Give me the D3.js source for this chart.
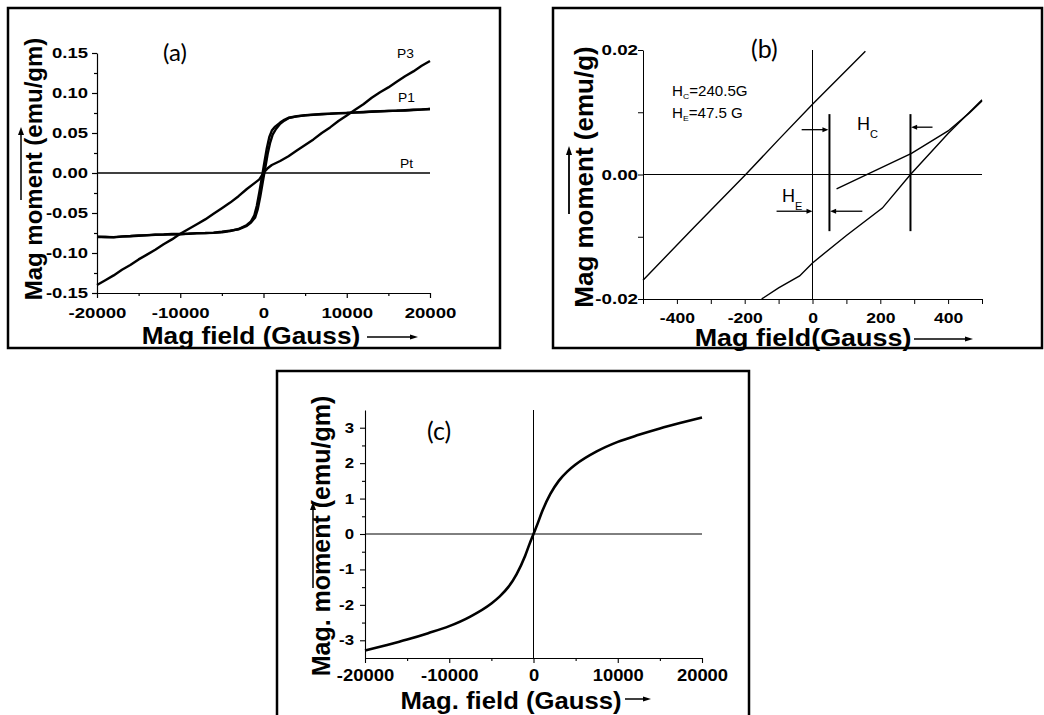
<!DOCTYPE html>
<html><head><meta charset="utf-8">
<script src="https://cdn.jsdelivr.net/npm/d3@7"></script>
<style>html,body{margin:0;padding:0;background:#fff;}svg{display:block;}</style>
</head><body>
<svg id="c" width="1044" height="715"></svg>
<script>
// ---------------- DATA ----------------
// Panel (a)
const xTicksA = [-20000, -10000, 0, 10000, 20000];
const xTickLabelsA = ["-20000", "-10000", "0", "10000", "20000"];
const xMinorA = [-15000, -5000, 5000, 15000];
const yTicksA = [-0.15, -0.10, -0.05, 0.00, 0.05, 0.10, 0.15];
const yTickLabelsA = ["-0.15", "-0.10", "-0.05", "0.00", "0.05", "0.10", "0.15"];
const yMinorA = [-0.125, -0.075, -0.025, 0.025, 0.075, 0.125];
const seriesNamesA = ["P3", "P1", "Pt"];
// P3 (both branches overlap)
const p3Field = [-20000,-19000,-18000,-17000,-16000,-15000,-14000,-13000,-12000,-11000,-10000,-9000,-8000,-7000,-6000,-5000,-4000,-3000,-2000,-1000,-500,0,500,1000,2000,3000,4000,5000,6000,7000,8000,9000,10000,11000,12000,13000,14000,15000,16000,17000,18000,19000,20000];
const p3Moment = [-0.140,-0.134,-0.128,-0.121,-0.115,-0.108,-0.102,-0.096,-0.089,-0.083,-0.076,-0.070,-0.064,-0.058,-0.051,-0.044,-0.037,-0.029,-0.020,-0.012,-0.008,0.000,0.006,0.010,0.015,0.021,0.028,0.035,0.042,0.050,0.057,0.065,0.072,0.079,0.086,0.094,0.101,0.107,0.114,0.121,0.127,0.134,0.140];
// P1 descending-field branch
const p1DescField = [-20000,-19000,-18000,-17000,-16000,-15000,-14000,-13000,-12000,-11000,-10000,-9000,-8000,-7000,-6000,-5000,-4000,-3000,-2000,-1500,-1100,-800,-500,-200,100,400,700,1000,1400,2000,2500,3000,4000,5000,6000,7000,8000,9000,10000,11000,12000,13000,14000,15000,16000,17000,18000,19000,20000];
const p1DescMoment = [-0.0795,-0.0800,-0.0805,-0.0795,-0.0790,-0.0785,-0.0780,-0.0772,-0.0770,-0.0765,-0.0762,-0.0760,-0.0755,-0.0752,-0.0748,-0.0740,-0.0725,-0.0700,-0.0650,-0.0605,-0.0530,-0.0410,-0.0240,-0.0060,0.0130,0.0310,0.0450,0.0530,0.0580,0.0630,0.0665,0.0690,0.0710,0.0722,0.0730,0.0735,0.0742,0.0745,0.0750,0.0758,0.0762,0.0765,0.0770,0.0775,0.0780,0.0782,0.0788,0.0792,0.0800];
// P1 ascending-field branch
const p1AscField = [-20000,-19000,-18000,-17000,-16000,-15000,-14000,-13000,-12000,-11000,-10000,-9000,-8000,-7000,-6000,-5000,-4000,-3000,-2000,-1500,-1000,-700,-400,-100,200,500,800,1100,1500,2000,2500,3000,4000,5000,6000,7000,8000,9000,10000,11000,12000,13000,14000,15000,16000,17000,18000,19000,20000];
const p1AscMoment = [-0.0800,-0.0798,-0.0802,-0.0792,-0.0788,-0.0780,-0.0776,-0.0770,-0.0768,-0.0762,-0.0765,-0.0758,-0.0752,-0.0750,-0.0745,-0.0735,-0.0720,-0.0705,-0.0660,-0.0620,-0.0555,-0.0455,-0.0300,-0.0120,0.0060,0.0240,0.0380,0.0480,0.0550,0.0615,0.0655,0.0685,0.0708,0.0720,0.0728,0.0738,0.0740,0.0748,0.0752,0.0755,0.0760,0.0768,0.0772,0.0776,0.0778,0.0785,0.0790,0.0795,0.0800];
// Pt (flat)
const ptField = [-20000, 20000];
const ptMoment = [0, 0];

// Panel (b)
const xTicksB = [-400, -200, 0, 200, 400];
const xTickLabelsB = ["-400", "-200", "0", "200", "400"];
const xMinorB = [-500, -300, -100, 100, 300, 500];
const yTicksB = [-0.02, 0.00, 0.02];
const yTickLabelsB = ["-0.02", "0.00", "0.02"];
const yMinorB = [-0.01, 0.01];
const bDescField = [-500, -350, -197, -100, 0, 156];
const bDescMoment = [-0.0170, -0.0085, 0.0000, 0.0056, 0.0113, 0.0198];
const bAscField = [-150, -100, -38, 0, 100, 206, 289, 400, 463, 500];
const bAscMoment = [-0.0200, -0.0182, -0.0163, -0.0142, -0.0098, -0.0054, 0.0000, 0.0066, 0.0100, 0.0120];
const bRetField = [71, 180, 292, 400, 463, 500];
const bRetMoment = [-0.0023, 0.0005, 0.0034, 0.0070, 0.0099, 0.0118];
const markerFields = [50, 289];
const markerTop = 0.0097, markerBottom = -0.0091;
const arrowsB = [ // [fromField, toField, moment]
  [-32, 47, 0.0072],
  [-106, 0, -0.0059],
  [147, 52, -0.0059],
  [354, 291, 0.0076]
];
const hcValue = "240.5G", heValue = "47.5 G";

// Panel (c)
const xTicksC = [-20000, -10000, 0, 10000, 20000];
const xTickLabelsC = ["-20000", "-10000", "0", "10000", "20000"];
const xMinorC = [-15000, -5000, 5000, 15000];
const yTicksC = [-3, -2, -1, 0, 1, 2, 3];
const yTickLabelsC = ["-3", "-2", "-1", "0", "1", "2", "3"];
const yMinorC = [-2.5, -1.5, -0.5, 0.5, 1.5, 2.5];
const cField = [-20000,-17500,-15000,-12500,-10000,-7500,-5000,-4000,-3000,-2000,-1000,-500,0,500,1000,2000,3000,4000,5000,7500,10000,12500,15000,17500,20000];
const cMoment = [-3.29,-3.14,-2.98,-2.80,-2.60,-2.33,-1.96,-1.76,-1.50,-1.13,-0.62,-0.30,0.0,0.30,0.62,1.13,1.50,1.76,1.96,2.33,2.60,2.80,2.98,3.14,3.29];

// ---------------- DRAWING ----------------
const svg = d3.select("#c");
const SANS = "'Liberation Sans', Arial, sans-serif";
const LABEL = "Lato, 'Open Sans', sans-serif";

function txt(g, x, y, s, o = {}) {
  return g.append("text")
    .attr("font-family", o.family || SANS)
    .attr("font-size", o.size || 14)
    .attr("font-weight", o.weight || "normal")
    .attr("text-anchor", o.anchor || "start")
    .attr("fill", "#000")
    .attr("transform", `translate(${x},${y})` + (o.rotate ? ` rotate(${o.rotate})` : "") + ` scale(${o.sx || 1},1)`)
    .text(s);
}
function arrow(g, x1, y1, x2, y2, len = 7, w = 3, sw = 1.3) {
  const dx = x2 - x1, dy = y2 - y1, L = Math.hypot(dx, dy), ux = dx / L, uy = dy / L;
  const bx = x2 - ux * len, by = y2 - uy * len;
  g.append("line").attr("x1", x1).attr("y1", y1).attr("x2", bx + ux).attr("y2", by + uy)
    .attr("stroke", "#000").attr("stroke-width", sw);
  g.append("path").attr("d", `M${x2},${y2}L${bx - uy * w},${by + ux * w}L${bx + uy * w},${by - ux * w}Z`).attr("fill", "#000");
}
function axes(g, x, y, cfg) {
  const [y0] = y.range(), [x0] = x.range();
  g.append("g").attr("transform", `translate(0,${y0})`)
    .call(d3.axisBottom(x).tickValues(cfg.xMinor).tickSize(cfg.minorLen).tickFormat(""))
    .call(s => s.select(".domain").remove());
  g.append("g").attr("transform", `translate(${x0},0)`)
    .call(d3.axisLeft(y).tickValues(cfg.yMinor).tickSize(cfg.minorLen).tickFormat(""))
    .call(s => s.select(".domain").remove());
  const xa = g.append("g").attr("transform", `translate(0,${y0})`)
    .call(d3.axisBottom(x).tickValues(cfg.xTicks).tickSize(cfg.majorLen).tickSizeOuter(0)
      .tickFormat((d, i) => cfg.xLabels[i]));
  xa.selectAll("text").attr("font-family", SANS).attr("font-weight", "bold")
    .attr("font-size", cfg.xSize).attr("fill", "#000")
    .attr("dy", null).attr("y", cfg.xLabelY).attr("transform", `scale(${cfg.xSx},1)`)
    .attr("x", 0);
  const ya = g.append("g").attr("transform", `translate(${x0},0)`)
    .call(d3.axisLeft(y).tickValues(cfg.yTicks).tickSize(cfg.majorLen).tickSizeOuter(0)
      .tickFormat((d, i) => cfg.yLabels[i]));
  ya.selectAll("text").attr("font-family", SANS).attr("font-weight", "bold")
    .attr("font-size", cfg.ySize).attr("fill", "#000")
    .attr("x", -cfg.yGap / cfg.ySx).attr("transform", `scale(${cfg.ySx},1)`);
  g.selectAll(".domain, .tick line").attr("stroke", "#000").attr("stroke-width", cfg.axisW || 1.2);
}
const zip = (a, b) => a.map((v, i) => [v, b[i]]);

// ---- Panel (a) ----
{
  const g = svg.append("g");
  g.append("rect").attr("x", 8).attr("y", 8).attr("width", 492).attr("height", 340)
    .attr("fill", "none").attr("stroke", "#000").attr("stroke-width", 2.5);
  const x = d3.scaleLinear().domain([-20000, 20000]).range([97, 430]);
  const y = d3.scaleLinear().domain([-0.15, 0.15]).range([293, 53]);
  const line = d3.line().x(d => x(d[0])).y(d => y(d[1]));
  g.append("path").attr("d", line(zip(ptField, ptMoment))).attr("fill", "none").attr("stroke", "#000").attr("stroke-width", 1.3);
  [[p3Field, p3Moment], [p1DescField, p1DescMoment], [p1AscField, p1AscMoment]].forEach(([f, m]) => {
    g.append("path").attr("d", line(zip(f, m))).attr("fill", "none").attr("stroke", "#000")
      .attr("stroke-width", 2.4).attr("stroke-linejoin", "round");
  });
  axes(g, x, y, { xTicks: xTicksA, xLabels: xTickLabelsA, xMinor: xMinorA, yTicks: yTicksA, yLabels: yTickLabelsA, yMinor: yMinorA,
    majorLen: 5, minorLen: 3, xSize: 15.5, xSx: 1.2, xLabelY: 25, ySize: 14, ySx: 1.32, yGap: 9 });
  txt(g, 397, 58, seriesNamesA[0], { size: 12, sx: 1.15 });
  txt(g, 398, 102, seriesNamesA[1], { size: 12, sx: 1.15 });
  txt(g, 400, 168, seriesNamesA[2], { size: 12, sx: 1.15 });
  txt(g, 163, 61, "(a)", { family: LABEL, size: 24 });
  txt(g, 251, 344, "Mag field (Gauss)", { size: 23, weight: "bold", anchor: "middle", sx: 1.14 });
  arrow(g, 367, 337, 418, 337, 8, 2.5, 1.5);
  txt(g, 42, 169, "Mag moment (emu/gm)", { size: 24, weight: "bold", anchor: "middle", rotate: -90 });
  arrow(g, 21, 200, 21, 127, 8, 3, 1.5);
}

// ---- Panel (b) ----
{
  const g = svg.append("g");
  g.append("rect").attr("x", 553).attr("y", 8).attr("width", 489).attr("height", 340)
    .attr("fill", "none").attr("stroke", "#000").attr("stroke-width", 2.5);
  const x = d3.scaleLinear().domain([-500, 500]).range([643, 982]);
  const y = d3.scaleLinear().domain([-0.02, 0.02]).range([299, 50]);
  const line = d3.line().x(d => x(d[0])).y(d => y(d[1]));
  g.append("line").attr("x1", x(-500)).attr("x2", x(500)).attr("y1", y(0)).attr("y2", y(0)).attr("stroke", "#000").attr("stroke-width", 1);
  g.append("line").attr("x1", x(0)).attr("x2", x(0)).attr("y1", y(0.02)).attr("y2", y(-0.02)).attr("stroke", "#000").attr("stroke-width", 1);
  [[bDescField, bDescMoment], [bAscField, bAscMoment], [bRetField, bRetMoment]].forEach(([f, m]) => {
    g.append("path").attr("d", line(zip(f, m))).attr("fill", "none").attr("stroke", "#000").attr("stroke-width", 1.4);
  });
  markerFields.forEach(f => g.append("line").attr("x1", x(f)).attr("x2", x(f)).attr("y1", y(markerTop)).attr("y2", y(markerBottom))
    .attr("stroke", "#000").attr("stroke-width", 2));
  arrowsB.forEach(([a, b, m]) => arrow(g, x(a), y(m), x(b), y(m), 6, 2.5, 1.3));
  axes(g, x, y, { xTicks: xTicksB, xLabels: xTickLabelsB, xMinor: xMinorB, yTicks: yTicksB, yLabels: yTickLabelsB, yMinor: yMinorB,
    majorLen: 5, minorLen: 5, xSize: 15, xSx: 1.17, xLabelY: 24, ySize: 15, ySx: 1.25, yGap: 5, axisW: 1 });
  const t1 = txt(g, 672, 96, "H", { size: 14, sx: 1.08 });
  t1.append("tspan").attr("font-size", 8).attr("dy", 3).text("C");
  t1.append("tspan").attr("dy", -3).text("=" + hcValue);
  const t2 = txt(g, 672, 118, "H", { size: 14, sx: 1.08 });
  t2.append("tspan").attr("font-size", 8).attr("dy", 3).text("E");
  t2.append("tspan").attr("dy", -3).text("=" + heValue);
  const t3 = txt(g, 857, 130, "H", { size: 18 });
  t3.append("tspan").attr("font-size", 11).attr("dy", 8).text("C");
  const t4 = txt(g, 782, 202, "H", { size: 18 });
  t4.append("tspan").attr("font-size", 11).attr("dy", 8).text("E");
  txt(g, 751, 58, "(b)", { family: LABEL, size: 25 });
  txt(g, 803, 346, "Mag field(Gauss)", { size: 23, weight: "bold", anchor: "middle", sx: 1.17 });
  arrow(g, 914, 339, 973, 339, 8, 2.5, 1.5);
  txt(g, 593, 177, "Mag moment (emu/g)", { size: 26, weight: "bold", anchor: "middle", rotate: -90 });
  arrow(g, 569, 214, 569, 146, 9, 3, 1.8);
}

// ---- Panel (c) ----
{
  const g = svg.append("g");
  g.append("rect").attr("x", 277).attr("y", 371).attr("width", 472).attr("height", 360)
    .attr("fill", "none").attr("stroke", "#000").attr("stroke-width", 2.5);
  const x = d3.scaleLinear().domain([-20000, 20000]).range([365, 702]);
  const y = d3.scaleLinear().domain([-3.5, 3.5]).range([658, 410]);
  g.append("line").attr("x1", x(-20000)).attr("x2", x(20000)).attr("y1", y(0)).attr("y2", y(0)).attr("stroke", "#000").attr("stroke-width", 1);
  g.append("line").attr("x1", x(0)).attr("x2", x(0)).attr("y1", y(3.5)).attr("y2", y(-3.5)).attr("stroke", "#000").attr("stroke-width", 1);
  const line = d3.line().x(d => x(d[0])).y(d => y(d[1])).curve(d3.curveMonotoneX);
  g.append("path").attr("d", line(zip(cField, cMoment))).attr("fill", "none").attr("stroke", "#000").attr("stroke-width", 2.6);
  axes(g, x, y, { xTicks: xTicksC, xLabels: xTickLabelsC, xMinor: xMinorC, yTicks: yTicksC, yLabels: yTickLabelsC, yMinor: yMinorC,
    majorLen: 5, minorLen: 3, xSize: 16, xSx: 1.15, xLabelY: 23, ySize: 14, ySx: 1.2, yGap: 11, axisW: 1.1 });
  txt(g, 427, 440, "(c)", { family: LABEL, size: 25 });
  txt(g, 511, 709, "Mag. field (Gauss)", { size: 24, weight: "bold", anchor: "middle", sx: 1.07 });
  arrow(g, 625, 699, 651, 699, 8, 2.5, 1.5);
  txt(g, 330, 536, "Mag. moment (emu/gm)", { size: 25, weight: "bold", anchor: "middle", rotate: -90 });
  arrow(g, 313, 588, 313, 502, 8, 3, 1.5);
}
</script>
</body></html>
